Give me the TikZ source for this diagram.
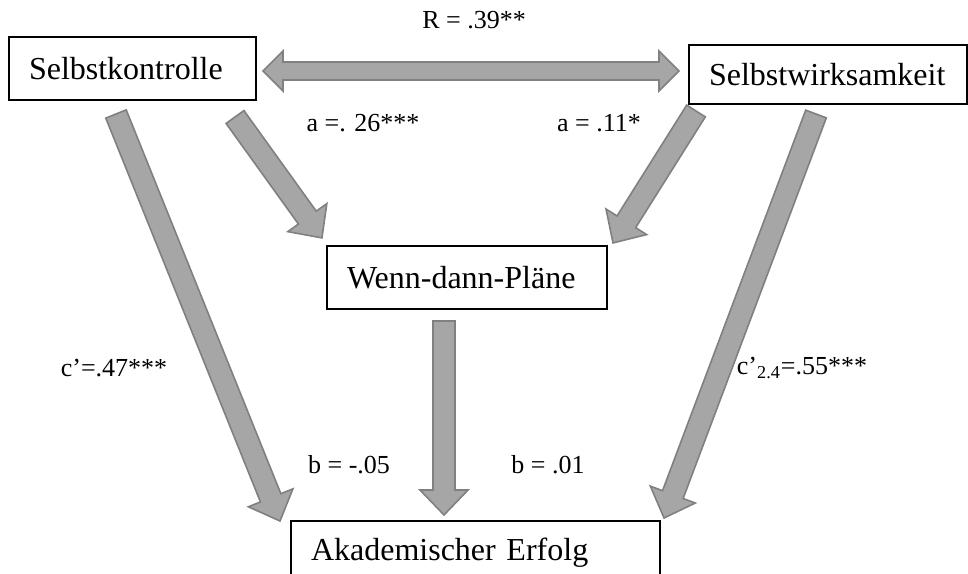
\documentclass[tikz,border=0pt]{standalone}
\usepackage{fontspec}
\setmainfont{Liberation Serif}
\usetikzlibrary{calc}

\definecolor{arrfill}{HTML}{A6A6A6}
\definecolor{arrline}{HTML}{808080}

% sizes of the block arrows (half widths, head length)
\def\shafthw{5.5pt}
\def\headhw{12pt}
\def\headlen{12.5pt}
\def\dblshafthw{4.5pt}
\def\dblheadhw{10pt}
\def\dblheadlen{10pt}

\newcommand\blockarrow[3][]{%
  \draw[blockarr,#1] let \p1=(#2), \p2=(#3),
      \n1={atan2(\y2-\y1,\x2-\x1)}, \n2={veclen(\x2-\x1,\y2-\y1)} in
    [shift={(\p1)}, rotate=\n1]
    (0pt,\shafthw) -- ({\n2*1pt-\headlen},\shafthw) -- ({\n2*1pt-\headlen},\headhw)
    -- ({\n2*1pt},0pt) -- ({\n2*1pt-\headlen},-\headhw) -- ({\n2*1pt-\headlen},-\shafthw)
    -- (0pt,-\shafthw) -- cycle;}
\newcommand\dblblockarrow[3][]{%
  \draw[blockarr,#1] let \p1=(#2), \p2=(#3),
      \n1={atan2(\y2-\y1,\x2-\x1)}, \n2={veclen(\x2-\x1,\y2-\y1)} in
    [shift={(\p1)}, rotate=\n1]
    (0pt,0pt) -- (\dblheadlen,\dblheadhw) -- (\dblheadlen,\dblshafthw)
    -- ({\n2*1pt-\dblheadlen},\dblshafthw) -- ({\n2*1pt-\dblheadlen},\dblheadhw)
    -- ({\n2*1pt},0pt) -- ({\n2*1pt-\dblheadlen},-\dblheadhw) -- ({\n2*1pt-\dblheadlen},-\dblshafthw)
    -- (\dblheadlen,-\dblshafthw) -- (\dblheadlen,-\dblheadhw) -- cycle;}

\begin{document}
\begin{tikzpicture}[
    x=0.5pt, y=-0.5pt,
    every node/.style={font=\fontsize{13}{16}\selectfont},
    box/.style={draw, line width=0.6pt, inner xsep=10pt, inner ysep=0pt, align=left,
                font=\fontsize{16}{19}\selectfont},
    blockarr/.style={draw=arrline, fill=arrfill, line width=0.8pt, line join=miter},
]
\useasboundingbox (0,0) rectangle (968,573);
% === Boxes ===
\node[box, text width=103.5pt, minimum height=31.5pt] (sk) at (132.5,68.5) {Selbstkontrolle};
\node[box, text width=119pt, minimum height=29.5pt] (sw) at (828,74.5) {Selbstwirksamkeit};
\node[box, text width=120pt, minimum height=31.5pt] (wdp) at (467,277.5) {Wenn-dann-Pläne};
\node[box, text width=164.5pt, minimum height=31.5pt] (ae) at (475.5,552.5) {Akademischer Erfolg};
% === Arrow ends ===
\coordinate (skC) at (116,114);
\coordinate (aeL) at (280,521);
\coordinate (skA) at (235,117);
\coordinate (wdpL) at (322,238);
\coordinate (swA) at (696,111);
\coordinate (wdpR) at (613,243);
\coordinate (swC) at (816,114);
\coordinate (aeR) at (664,518);
\coordinate (wdpB) at (444,321);
\coordinate (aeT) at (444,515);
\coordinate (skR) at (263,71);
\coordinate (swL) at (679,71);
% === Arrows ===
\dblblockarrow{skR}{swL}
\blockarrow{skC}{aeL}
\blockarrow{skA}{wdpL}
\blockarrow{swA}{wdpR}
\blockarrow{swC}{aeR}
\blockarrow{wdpB}{aeT}
% === Labels ===
\node (r) at (474,20) {R = .39**};
\node (a1) at (363,123) {a =. 26***};
\node (a2) at (599,123) {a = .11*};
\node (c1) at (114,368) {c’=.47***};
\node (c2) at (802,368) {c’\textsubscript{2.4}=.55***};
\node (b1) at (349,465) {b = -.05};
\node (b2) at (548,465) {b = .01};
\end{tikzpicture}
\end{document}
